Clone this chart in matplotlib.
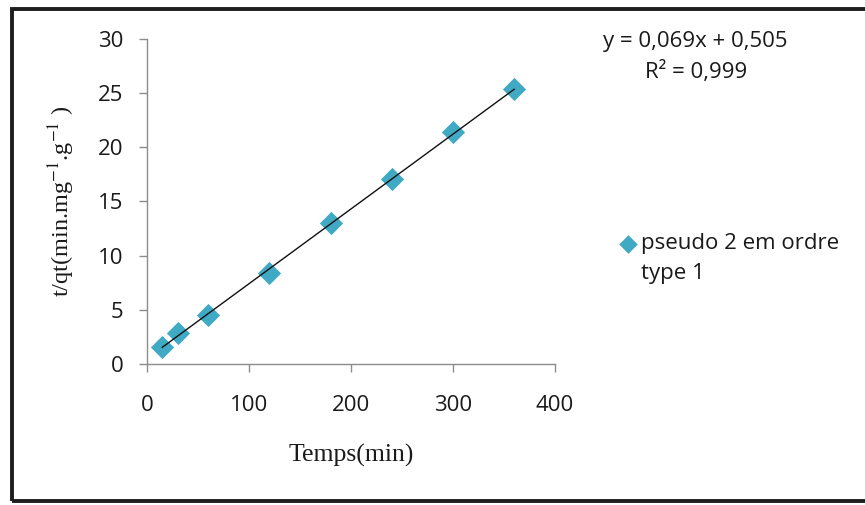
import matplotlib
matplotlib.use('Agg')
import matplotlib.pyplot as plt
from matplotlib.patches import Rectangle
import numpy as np

# data
temps = [15, 30, 60, 120, 180, 240, 300, 360]
t_qt = [1.6, 2.9, 4.5, 8.4, 13.0, 17.1, 21.4, 25.4]
fit_slope = 0.069
fit_intercept = 0.505
equation_text = "y = 0,069x + 0,505"
r2_text = "R² = 0,999"
series_label = "pseudo 2 em ordre"
series_label_2 = "type 1"
x_ticks = [0, 100, 200, 300, 400]
y_ticks = [0, 5, 10, 15, 20, 25, 30]

W, H = 865, 505
SANS = 'Open Sans'
SERIF = 'Liberation Serif'
MARKER_COLOR = '#40A9C4'
AXIS_GRAY = '#8C8C8C'
TEXT = '#1A1A1A'

plt.rcParams['mathtext.fontset'] = 'stix'

fig = plt.figure(figsize=(W / 100, H / 100), dpi=100)
fig.patch.set_facecolor('white')

# outer frame (right edge runs off the picture)
fig.add_artist(Rectangle((12 / W, 1 - 501 / H), 1.2, (501 - 9) / H,
                         transform=fig.transFigure, fill=False,
                         edgecolor='#1E1E1E', linewidth=2.8, clip_on=False))

ax = fig.add_axes([147 / W, 1 - 364 / H, 408 / W, 325.2 / H])
ax.set_xlim(0, 400)
ax.set_ylim(0, 30)

ax.scatter(temps, t_qt, marker='D', s=140, color=MARKER_COLOR,
           linewidths=0, zorder=3, label=series_label)
xs = np.array([temps[0], temps[-1]])
ax.plot(xs, fit_slope * xs + fit_intercept, color='#111111', lw=1.0, zorder=4)

for side in ['top', 'right']:
    ax.spines[side].set_visible(False)
for side in ['left', 'bottom']:
    ax.spines[side].set_color(AXIS_GRAY)
    ax.spines[side].set_linewidth(1.0)

ax.set_xticks(x_ticks)
ax.set_yticks(y_ticks)
ax.tick_params(axis='both', direction='out', length=6, width=1.0,
               color=AXIS_GRAY, labelcolor=TEXT, labelsize=16)
ax.tick_params(axis='x', pad=16)
ax.tick_params(axis='y', pad=11)
for lab in ax.get_xticklabels() + ax.get_yticklabels():
    lab.set_fontfamily(SANS)

ax.set_xlabel("Temps(min)", fontfamily=SERIF, fontsize=18.5, color=TEXT)
ax.xaxis.set_label_coords(0.5, -(444 - 364) / 325.2)
ax.set_ylabel(r"t/qt(min.mg$^{-1}$.g$^{-1}$ )",
              fontfamily=SERIF, fontsize=17.5, color=TEXT)
ax.yaxis.set_label_coords(-(147 - 77) / 408, 0.5)

# trendline equation
fig.text(695 / W, 1 - 42 / H, equation_text, ha='center', va='center',
         fontfamily=SANS, fontsize=16, color=TEXT)
fig.text(696 / W, 1 - 72 / H, r2_text, ha='center', va='center',
         fontfamily=SANS, fontsize=16, color=TEXT)

# legend, label wraps onto a second line
leg = fig.legend(loc='center left', bbox_to_anchor=(619 / W, 1 - 244 / H),
                 frameon=False, borderpad=0, borderaxespad=0,
                 handlelength=0.8, handletextpad=0.2, markerscale=0.8,
                 prop={'family': SANS, 'size': 16})
for t in leg.get_texts():
    t.set_color(TEXT)
fig.text(641 / W, 1 - 274 / H, series_label_2, ha='left', va='center',
         fontfamily=SANS, fontsize=16, color=TEXT)

fig.savefig('out.png', dpi=100)
